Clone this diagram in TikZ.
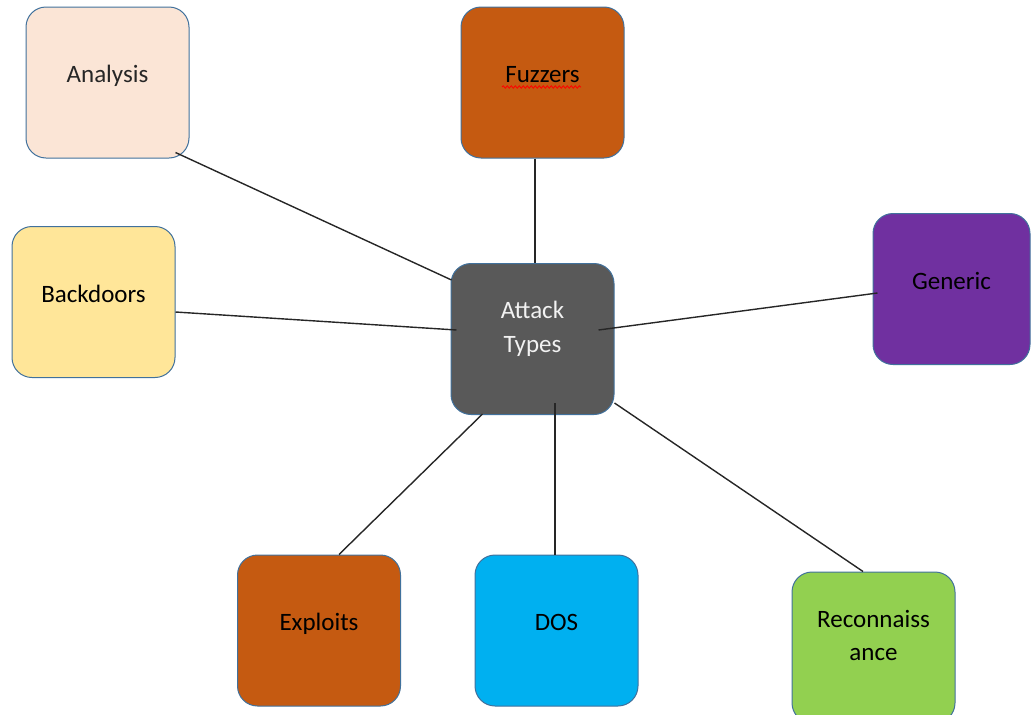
\documentclass[tikz,border=0pt]{standalone}
\usepackage{fontspec}
\setmainfont{Carlito}
\usepackage{tikz}
\usetikzlibrary{decorations.pathmorphing}
\definecolor{boxline}{HTML}{41719C}
\definecolor{peach}{HTML}{FBE5D6}
\definecolor{rust}{HTML}{C55A11}
\definecolor{plum}{HTML}{7030A0}
\definecolor{sand}{HTML}{FFE699}
\definecolor{slate}{HTML}{595959}
\definecolor{sky}{HTML}{00B0F0}
\definecolor{lime}{HTML}{92D050}
\tikzset{
	box/.style={draw=boxline, line width=1pt, rounded corners=20pt, minimum width=163pt, minimum height=151pt, inner sep=0pt, font=\fontsize{25}{33.5}\selectfont, text height=8pt, text depth=8pt},
	twoline/.style={align=center, text height=34pt, text depth=8pt},
	link/.style={draw=black!85, line width=1.4pt}
}
\begin{document}
\begin{tikzpicture}[x=1pt, y=-1pt]
				\useasboundingbox (0,0) rectangle (1031,715);
				\clip (0,0) rectangle (1031,715);
				\node[box, fill=peach, text=black!85] (an) at (107.5,82.5) {Analysis};
				\node[box, fill=rust] (fz) at (542.5,82.5) {Fuzzers};
				\node[box, fill=plum, minimum width=157pt] (gn) at (951.5,289) {Generic};
				\node[box, fill=sand] (bd) at (93.5,302) {Backdoors};
				\node[box, twoline, fill=slate, text=black!5] (at) at (532.5,339) {Attack\\Types};
				\node[box, fill=rust] (ex) at (319,630.5) {Exploits};
				\node[box, fill=sky] (ds) at (556.5,630.5) {DOS};
				\node[box, twoline, fill=lime] (rc) at (873.5,647.5) {Reconnaiss\\ance};
				\draw[red, line width=0.8pt, decorate, decoration={snake, amplitude=1.2pt, segment length=4pt}] ([shift={(-40.5,4.5)}]fz.center) -- ([shift={(38.5,4.5)}]fz.center);
				\draw[link] ([shift={(-14,-6)}]an.south east) -- ([shift={(1,17)}]at.north west);
				\draw[link] ([shift={(-7.5,0)}]fz.south) -- ([shift={(2.5,0)}]at.north);
				\draw[link] ([shift={(0,10)}]bd.east) -- ([shift={(6,-9)}]at.west);
				\draw[link] ([shift={(5,4)}]gn.west) -- ([shift={(-16,-9)}]at.east);
				\draw[link] ([shift={(20,0)}]ex.north) -- ([shift={(32,-1)}]at.south west);
				\draw[link] ([shift={(-1.5,0)}]ds.north) -- ([shift={(22.5,-12)}]at.south);
				\draw[link] ([shift={(-10.5,0)}]rc.north) -- ([shift={(0,-12)}]at.south east);
			\end{tikzpicture}
\end{document}
